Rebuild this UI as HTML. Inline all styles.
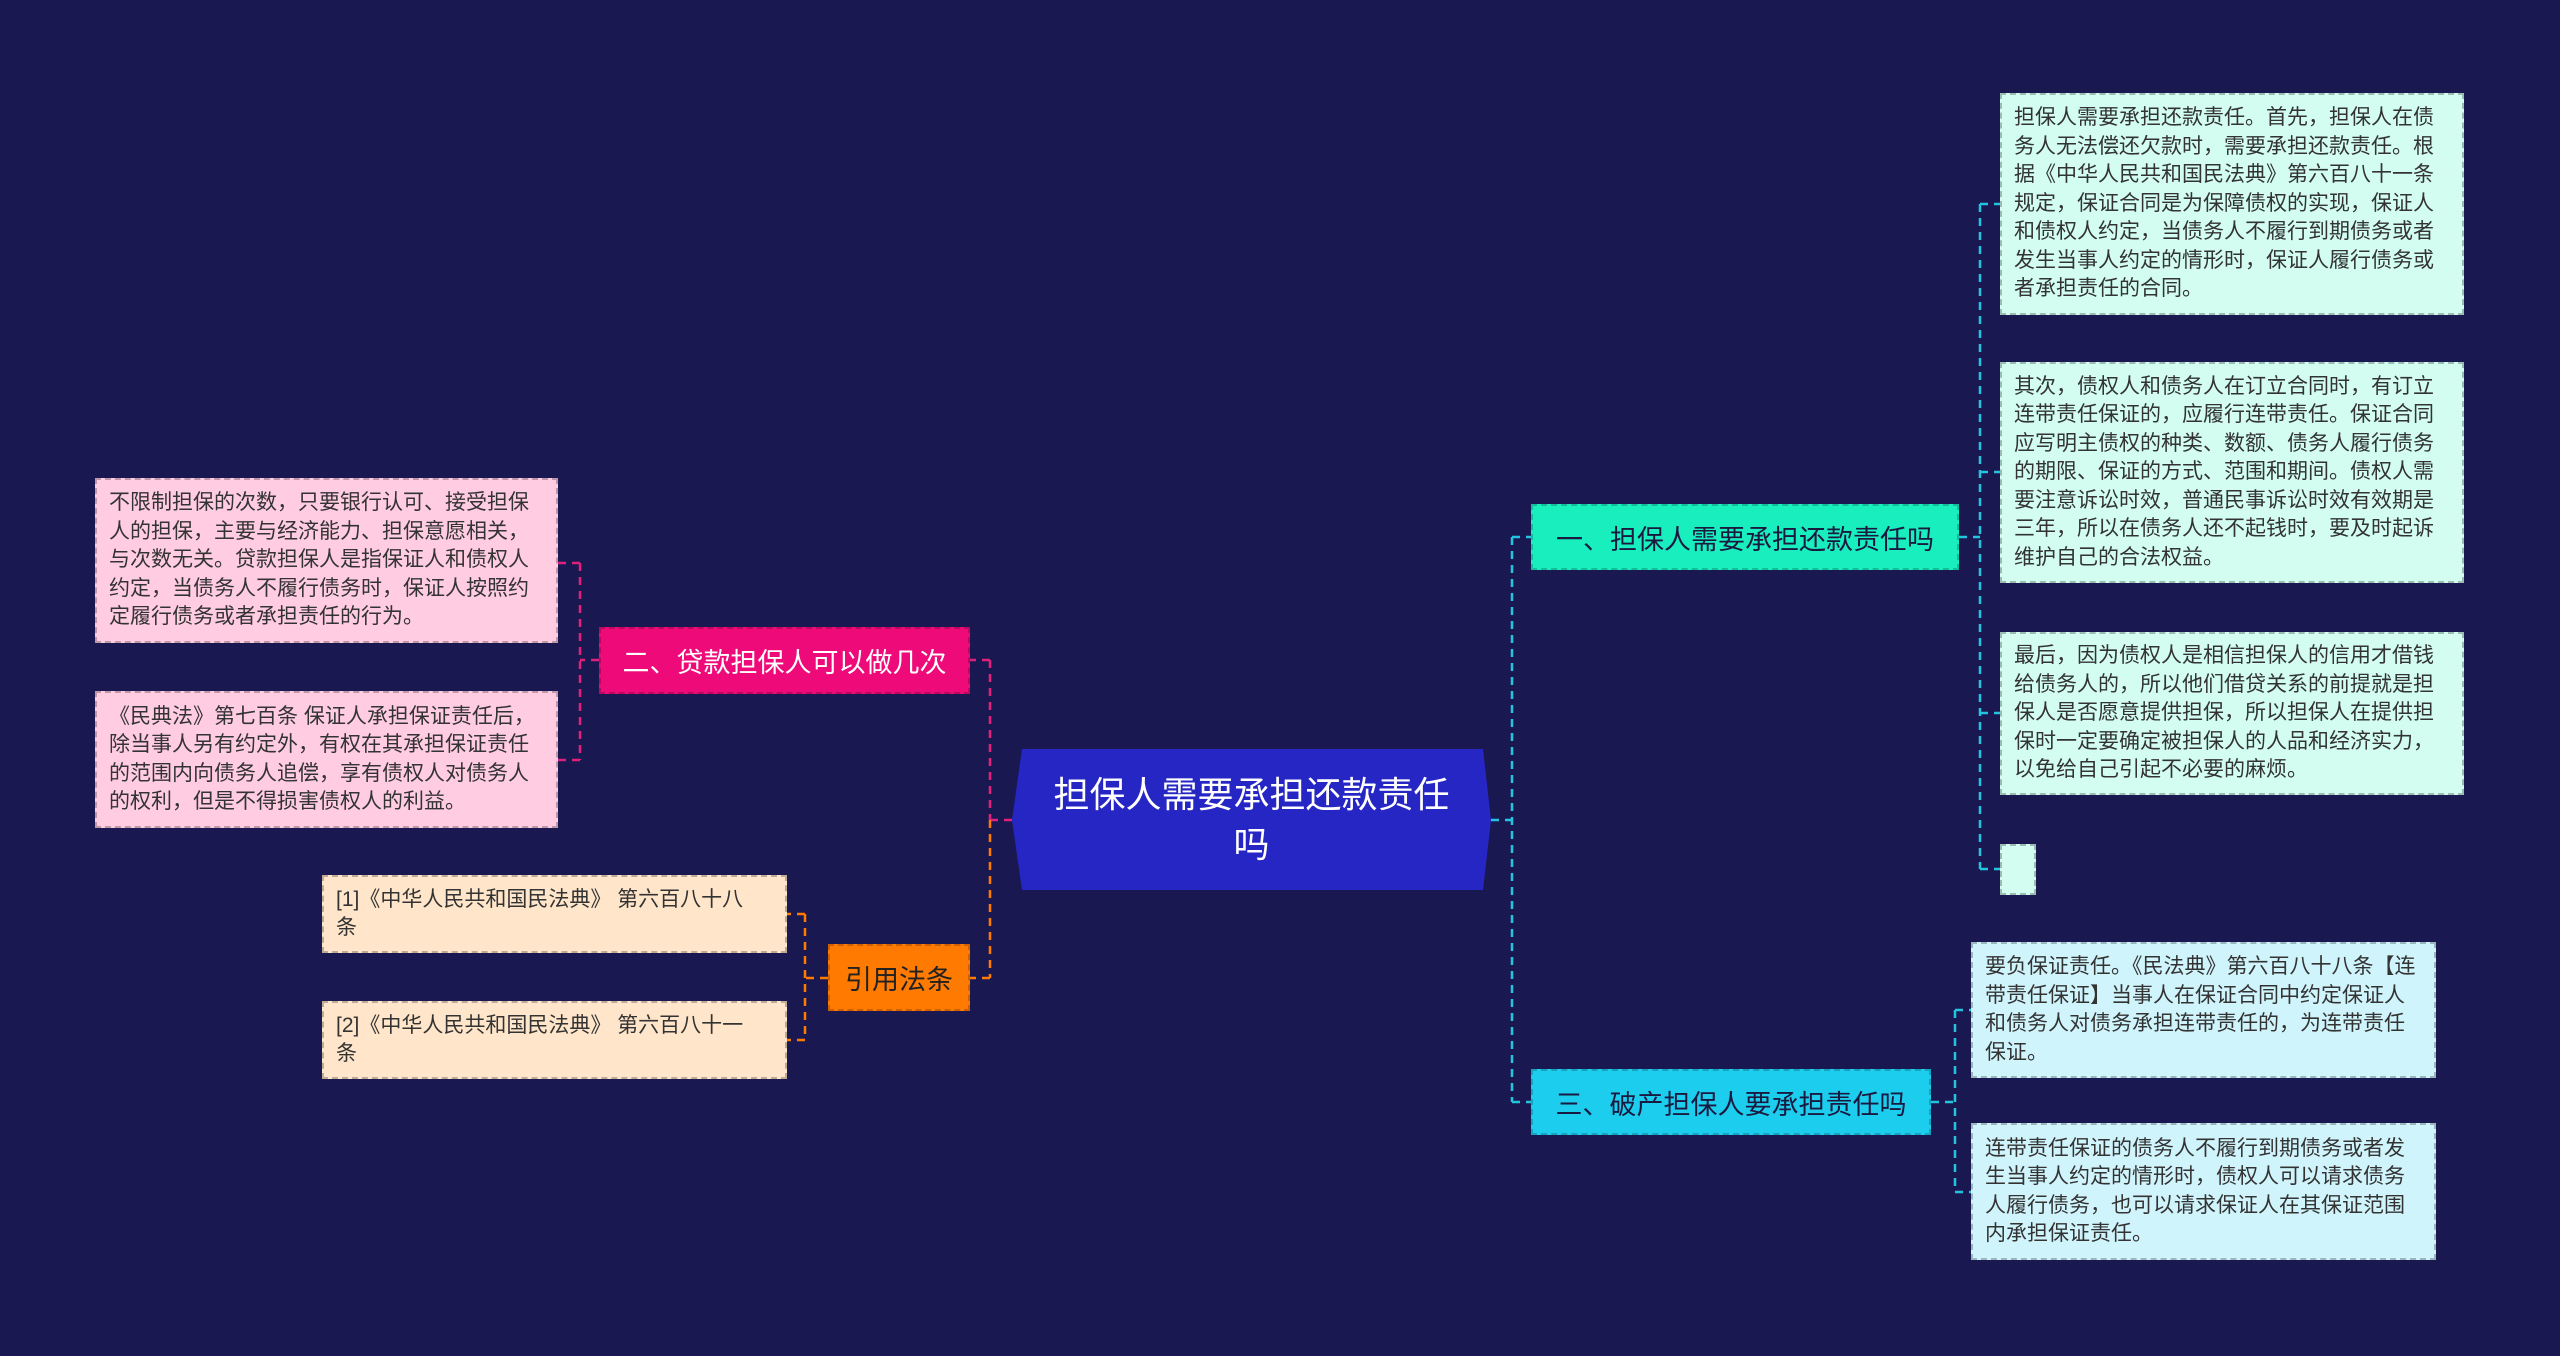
<!DOCTYPE html>
<html><head><meta charset="utf-8"><style>
body{margin:0;width:2560px;height:1356px;background:#1a1850;overflow:hidden;position:relative;font-family:"Liberation Sans","Noto Sans CJK SC",sans-serif}
.n{position:absolute;box-sizing:border-box;display:flex;align-items:center}
.leaf{border:2px dashed rgba(0,0,0,0.25);font-size:21px;line-height:28.5px;color:#333;padding:6px 12px;align-items:center}
.br{font-size:27px;padding:0 14px;border:2px dashed rgba(0,0,0,0.2);white-space:nowrap;justify-content:center}
svg{position:absolute;left:0;top:0}
</style></head><body>
<svg width="2560" height="1356">
<g fill="none" stroke-width="2.5" stroke-dasharray="8,6">
<path d="M1491 820 H1512 M1512 537 V1102 M1512 537 H1531 M1512 1102 H1531" stroke="#22c4e0"/>
<path d="M1959 537 H1980 M1980 204 V869 M1980 204 H2000 M1980 472 H2000 M1980 713 H2000 M1980 869 H2000" stroke="#22c4e0"/>
<path d="M1931 1102 H1955 M1955 1010 V1192 M1955 1010 H1971 M1955 1192 H1971" stroke="#22c4e0"/>
<path d="M1012 820 H990 M990 660 V820 M990 660 H970" stroke="#e0207a"/>
<path d="M990 820 V978 M990 978 H970" stroke="#ff7a00"/>
<path d="M599 660 H580 M580 563 V760 M580 563 H558 M580 760 H558" stroke="#e0207a"/>
<path d="M828 978 H805 M805 914 V1040 M805 914 H787 M805 1040 H787" stroke="#ff7a00"/>
</g>
<polygon points="1022,749 1483,749 1491,820 1483,890 1022,890 1012,820" fill="#2626c4"/>
</svg>
<div class="n" style="left:1012px;top:749px;width:479px;height:141px;justify-content:center;text-align:center;color:#fff;font-size:36px;line-height:50px;padding:0 30px">担保人需要承担还款责任吗</div>

<div class="n br" style="left:1531px;top:504px;width:428px;height:66px;background:#19eebe;color:#1a1a40">一、担保人需要承担还款责任吗</div>
<div class="n br" style="left:1531px;top:1069px;width:400px;height:66px;background:#1ccdee;color:#1a1a40">三、破产担保人要承担责任吗</div>
<div class="n br" style="left:599px;top:627px;width:371px;height:67px;background:#ee0a78;color:#fff">二、贷款担保人可以做几次</div>
<div class="n br" style="left:828px;top:944px;width:142px;height:67px;background:#ff7a00;color:#222">引用法条</div>

<div class="n leaf" style="left:2000px;top:93px;width:464px;height:222px;background:#d2fdf0">担保人需要承担还款责任。首先，担保人在债务人无法偿还欠款时，需要承担还款责任。根据《中华人民共和国民法典》第六百八十一条规定，保证合同是为保障债权的实现，保证人和债权人约定，当债务人不履行到期债务或者发生当事人约定的情形时，保证人履行债务或者承担责任的合同。</div>
<div class="n leaf" style="left:2000px;top:362px;width:464px;height:221px;background:#d2fdf0">其次，债权人和债务人在订立合同时，有订立连带责任保证的，应履行连带责任。保证合同应写明主债权的种类、数额、债务人履行债务的期限、保证的方式、范围和期间。债权人需要注意诉讼时效，普通民事诉讼时效有效期是三年，所以在债务人还不起钱时，要及时起诉维护自己的合法权益。</div>
<div class="n leaf" style="left:2000px;top:632px;width:464px;height:163px;background:#d2fdf0">最后，因为债权人是相信担保人的信用才借钱给债务人的，所以他们借贷关系的前提就是担保人是否愿意提供担保，所以担保人在提供担保时一定要确定被担保人的人品和经济实力，以免给自己引起不必要的麻烦。</div>
<div class="n leaf" style="left:2000px;top:844px;width:36px;height:51px;background:#d2fdf0"></div>
<div class="n leaf" style="left:1971px;top:942px;width:465px;height:136px;background:#d0f4fc">要负保证责任。《民法典》第六百八十八条【连带责任保证】当事人在保证合同中约定保证人和债务人对债务承担连带责任的，为连带责任保证。</div>
<div class="n leaf" style="left:1971px;top:1123px;width:465px;height:137px;background:#d0f4fc">连带责任保证的债务人不履行到期债务或者发生当事人约定的情形时，债权人可以请求债务人履行债务，也可以请求保证人在其保证范围内承担保证责任。</div>
<div class="n leaf" style="left:95px;top:478px;width:463px;height:165px;background:#ffcce2">不限制担保的次数，只要银行认可、接受担保人的担保，主要与经济能力、担保意愿相关，与次数无关。贷款担保人是指保证人和债权人约定，当债务人不履行债务时，保证人按照约定履行债务或者承担责任的行为。</div>
<div class="n leaf" style="left:95px;top:691px;width:463px;height:137px;background:#ffcce2">《民典法》第七百条 保证人承担保证责任后，除当事人另有约定外，有权在其承担保证责任的范围内向债务人追偿，享有债权人对债务人的权利，但是不得损害债权人的利益。</div>
<div class="n leaf" style="left:322px;top:875px;width:465px;height:78px;background:#ffe6ca;padding-right:30px">[1]《中华人民共和国民法典》 第六百八十八条</div>
<div class="n leaf" style="left:322px;top:1001px;width:465px;height:78px;background:#ffe6ca;padding-right:30px">[2]《中华人民共和国民法典》 第六百八十一条</div>
</body></html>
